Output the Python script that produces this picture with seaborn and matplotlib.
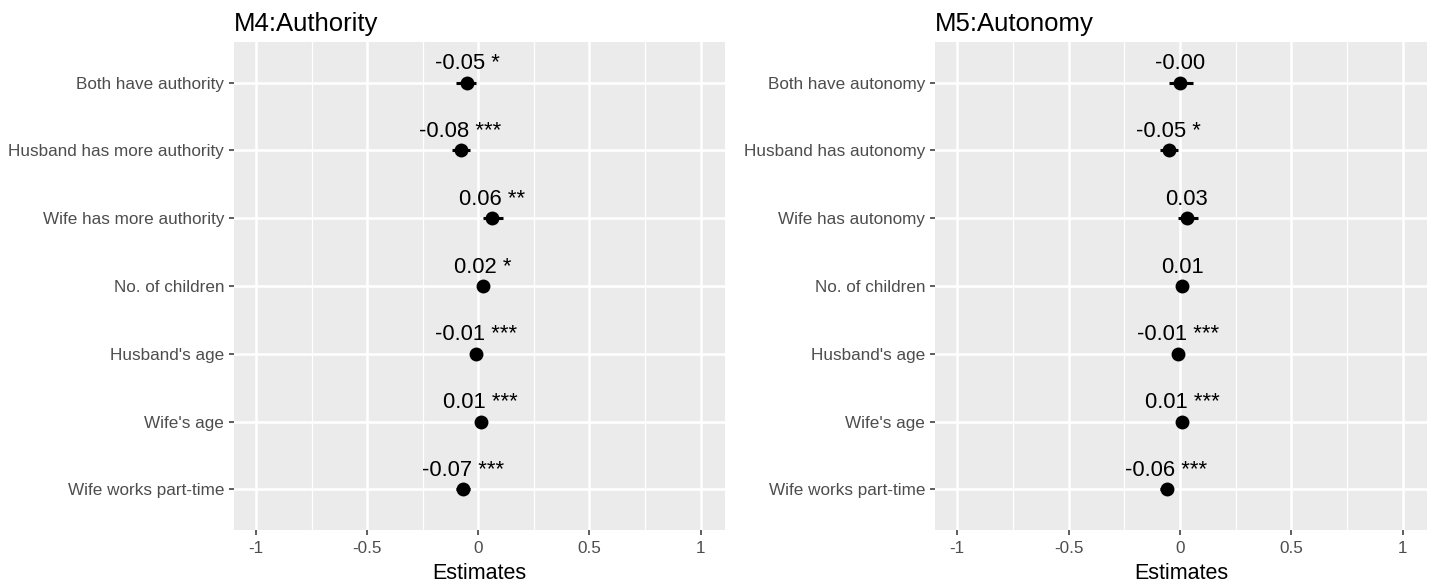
import matplotlib
matplotlib.use("Agg")
import matplotlib.pyplot as plt
import seaborn as sns
import numpy as np
import pandas as pd

sns.set_theme(style="darkgrid")
plt.rcParams['font.family'] = ['Liberation Sans', 'DejaVu Sans']

# Model M4: authority
auth_terms = ["Both have authority", "Husband has more authority", "Wife has more authority",
              "No. of children", "Husband's age", "Wife's age", "Wife works part-time"]
auth_est = [-0.05, -0.08, 0.06, 0.02, -0.01, 0.01, -0.07]
auth_lo = [-0.10, -0.12, 0.02, 0.00, -0.015, 0.005, -0.10]
auth_hi = [-0.01, -0.04, 0.11, 0.04, -0.005, 0.015, -0.04]
auth_sig = ["*", "***", "**", "*", "***", "***", "***"]

# Model M5: autonomy
auto_terms = ["Both have autonomy", "Husband has autonomy", "Wife has autonomy",
              "No. of children", "Husband's age", "Wife's age", "Wife works part-time"]
auto_est = [-0.00, -0.05, 0.03, 0.01, -0.01, 0.01, -0.06]
auto_lo = [-0.05, -0.09, -0.01, -0.01, -0.015, 0.005, -0.09]
auto_hi = [0.06, -0.01, 0.08, 0.03, -0.005, 0.015, -0.03]
auto_sig = ["", "*", "", "", "***", "***", "***"]

x_ticks = [-1, -0.5, 0, 0.5, 1]
x_tick_labels = ["-1", "-0.5", "0", "0.5", "1"]

W, H = 1435, 585
fig = plt.figure(figsize=(W / 100, H / 100), dpi=100)
fig.patch.set_facecolor("white")


def panel(rect, title, terms, est, lo, hi, sig):
    ax = fig.add_axes(rect)
    df = pd.DataFrame({"term": terms, "est": est, "lo": lo, "hi": hi, "sig": sig})
    df["pos"] = np.arange(len(df))
    ax.set_facecolor("#EBEBEB")
    ax.set_axisbelow(True)
    ax.grid(False)
    for v in [-0.75, -0.25, 0.25, 0.75]:
        ax.axvline(v, color="white", lw=0.9, zorder=0)
    for v in x_ticks:
        ax.axvline(v, color="white", lw=1.8, zorder=0)
    for p in df["pos"]:
        ax.axhline(p, color="white", lw=1.8, zorder=0)
    ax.hlines(df["pos"], df["lo"], df["hi"], color="black", lw=2.2, zorder=2)
    sns.scatterplot(data=df, x="est", y="pos", ax=ax, color="black", s=100,
                    edgecolor="black", linewidth=0, zorder=3, legend=False)
    for _, r in df.iterrows():
        lab = f"{r.est:.2f}" + (f" {r.sig}" if r.sig else "")
        ax.annotate(lab, (r.est, r.pos), xytext=(0, 6), textcoords="offset points",
                    ha="center", va="bottom", fontsize=15.8, color="black")
    ax.set_xlim(-1.1, 1.11)
    ax.set_ylim(len(df) - 0.4, -0.6)
    ax.set_xticks(x_ticks)
    ax.set_xticklabels(x_tick_labels)
    ax.set_yticks(df["pos"])
    ax.set_yticklabels(terms)
    ax.tick_params(axis="both", which="major", bottom=True, left=True, length=3.5,
                   width=1.1, color="#333333", labelcolor="#4D4D4D", labelsize=12.3)
    ax.tick_params(axis="x", pad=4.5)
    ax.tick_params(axis="y", pad=3.5)
    for s in ax.spines.values():
        s.set_visible(False)
    ax.set_xlabel("Estimates", fontsize=15.5, color="black", labelpad=5)
    ax.set_ylabel("")
    ax.set_title(title, loc="left", fontsize=18.5, color="black", pad=8)
    return ax


panel([234 / W, 1 - 530 / H, (725 - 234) / W, (530 - 42) / H], "M4:Authority",
      auth_terms, auth_est, auth_lo, auth_hi, auth_sig)
panel([935 / W, 1 - 530 / H, (1427 - 935) / W, (530 - 42) / H], "M5:Autonomy",
      auto_terms, auto_est, auto_lo, auto_hi, auto_sig)

fig.savefig("out.png", dpi=100)
